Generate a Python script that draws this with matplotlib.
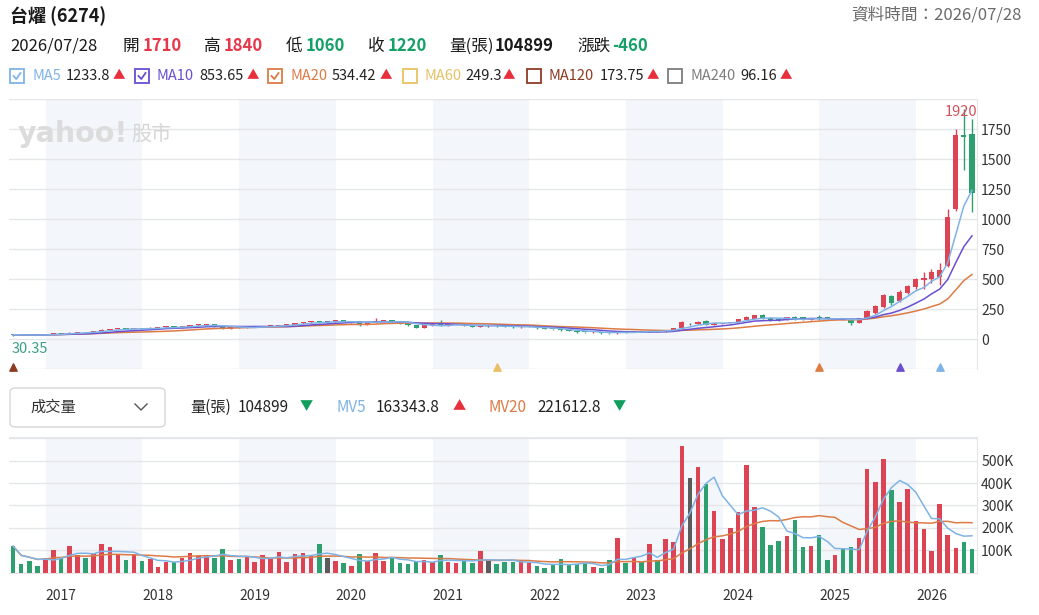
import numpy as np
import pandas as pd
import matplotlib
matplotlib.use('Agg')
import matplotlib.pyplot as plt
import matplotlib.dates as mdates
from matplotlib.patches import Rectangle, FancyBboxPatch
from matplotlib.lines import Line2D

plt.rcParams['font.family'] = ['Noto Sans CJK TC', 'DejaVu Sans']

# --- monthly candles, 2016/08 - 2026/07 ---
months = pd.date_range('2016-08-01', periods=120, freq='MS') + pd.offsets.MonthEnd(0)

opens = [42, 38, 36, 35, 34, 41, 48, 46, 56, 60,
         57, 70, 79, 88, 91, 85, 88, 84, 97, 99,
         107, 99, 106, 116, 123, 125, 108, 88, 100, 97,
         102, 104, 108, 112, 120, 123, 133, 143, 150, 141,
         141, 157, 146, 149, 124, 138, 156, 158, 147, 132,
         118, 96, 118, 121, 118, 121, 123, 116, 104, 112,
         112, 108, 104, 99, 104, 106, 92, 86, 84, 76,
         72, 60, 58, 63, 50, 49, 63, 59, 67, 63,
         72, 67, 76, 92, 132, 130, 156, 122, 130, 136,
         142, 164, 172, 200, 175, 172, 166, 187, 184, 161,
         183, 180, 166, 172, 167, 139, 174, 223, 267, 365,
         323, 390, 434, 495, 502, 523, 607, 1085, 1705, 1710]
highs = [45, 40, 39, 37, 42, 50, 50, 58, 62, 62,
         72, 82, 90, 93, 93, 92, 91, 99, 101, 110,
         110, 108, 119, 126, 128, 127, 110, 106, 104, 104,
         106, 110, 114, 122, 126, 136, 146, 154, 153, 146,
         160, 159, 152, 150, 140, 175, 162, 160, 149, 135,
         120, 122, 124, 158, 125, 126, 125, 118, 122, 118,
         116, 111, 110, 108, 110, 107, 96, 90, 88, 80,
         75, 63, 66, 64, 53, 66, 65, 70, 70, 75,
         74, 80, 95, 150, 138, 152, 165, 136, 140, 148,
         172, 195, 205, 208, 180, 178, 188, 192, 188, 180,
         203, 185, 178, 178, 175, 181, 245, 285, 375, 372,
         412, 455, 515, 560, 587, 635, 1090, 1750, 1920, 1840]
lows = [30.35, 34, 33, 33, 33, 40, 44, 45, 54, 55,
        56, 68, 77, 83, 82, 84, 82, 83, 93, 97,
        96, 97, 104, 113, 118, 104, 82, 85, 93, 95,
        99, 102, 105, 110, 117, 121, 130, 140, 138, 136,
        139, 143, 140, 110, 120, 135, 147, 143, 128, 115,
        92, 94, 113, 115, 115, 117, 113, 100, 102, 106,
        104, 100, 96, 96, 100, 88, 82, 80, 73, 68,
        56, 55, 56, 46, 47, 48, 56, 57, 60, 61,
        64, 65, 74, 90, 120, 126, 118, 118, 126, 132,
        140, 160, 168, 168, 150, 152, 162, 163, 158, 158,
        165, 168, 160, 160, 117, 133, 168, 215, 260, 287,
        315, 380, 420, 417, 473, 454, 600, 1070, 1410, 1060]
closes = [38, 36, 35, 34, 41, 48, 46, 56, 60, 57,
          70, 79, 88, 91, 85, 88, 84, 97, 99, 107,
          99, 106, 116, 123, 125, 108, 88, 100, 97, 102,
          104, 108, 112, 120, 123, 133, 143, 150, 141, 141,
          157, 146, 149, 124, 138, 156, 158, 147, 132, 118,
          96, 118, 121, 118, 121, 123, 116, 104, 118, 112,
          108, 104, 99, 104, 106, 92, 86, 84, 76, 72,
          60, 58, 63, 50, 49, 63, 59, 67, 63, 72,
          67, 76, 92, 142, 132, 148, 122, 134, 138, 145,
          167, 189, 200, 174, 158, 160, 184, 168, 162, 175,
          170, 174, 172, 168, 139, 174, 236, 278, 370, 306,
          392, 445, 506, 515, 557, 579, 1020, 1700, 1690, 1220]
volumes = [118000, 37000, 52000, 31000, 64000, 101000, 70000, 118000, 79000, 67000,
           87000, 127000, 113000, 82000, 57000, 78000, 52000, 61000, 27000, 48000,
           48000, 67000, 87000, 75000, 75000, 67000, 107000, 57000, 63000, 70000,
           48000, 78000, 63000, 93000, 48000, 82000, 87000, 73000, 127000, 67000,
           52000, 42000, 31000, 82000, 52000, 88000, 52000, 67000, 42000, 37000,
           49000, 57000, 49000, 78000, 48000, 42000, 52000, 43000, 97000, 52000,
           39000, 49000, 46000, 58000, 43000, 28000, 19000, 36000, 63000, 34000,
           39000, 43000, 24000, 19000, 55000, 157000, 43000, 64000, 48000, 130000,
           58000, 151000, 139000, 564000, 422000, 473000, 397000, 276000, 151000, 201000,
           270000, 479000, 293000, 206000, 125000, 140000, 166000, 236000, 115000, 121000,
           170000, 55000, 81000, 107000, 115000, 157000, 463000, 403000, 507000, 369000,
           316000, 373000, 230000, 196000, 96000, 306000, 167000, 110000, 136000, 104899]

# crossover markers at the bottom of the price panel (month index, line)
signal_idx = [0, 60, 100, 110, 115]
signal_line = ['MA120', 'MA60', 'MA20', 'MA10', 'MA5']

ma_names = ['MA5', 'MA10', 'MA20', 'MA60', 'MA120', 'MA240']
ma_values = ['1233.8', '853.65', '534.42', '249.3', '173.75', '96.16']
ma_checked = [True, True, True, False, False, False]
ma_colors = {'MA5': '#7fb3e6', 'MA10': '#6a4fd0', 'MA20': '#dd7b45',
             'MA60': '#e8c064', 'MA120': '#8e3b22', 'MA240': '#7d7d7d'}

RED = '#dc4453'
GREEN = '#2e9f6e'
GRAY = '#5b5b5b'
W, H = 1039, 615

df = pd.DataFrame({'open': opens, 'high': highs, 'low': lows, 'close': closes,
                   'vol': volumes}, index=months)
x = mdates.date2num(df.index.to_pydatetime())
colors = [RED if c > o else GREEN if c < o else GRAY for o, c in zip(opens, closes)]

fig = plt.figure(figsize=(W / 100, H / 100), dpi=100)


def fx(px):
    return px / W


def fy(py):
    return 1 - py / H


def ftext(px, py, s, **kw):
    kw.setdefault('va', 'center')
    fig.text(fx(px), fy(py), s, **kw)


xlim = (mdates.date2num(pd.Timestamp('2016-08-15')), mdates.date2num(pd.Timestamp('2026-08-19')))
shade_years = [2017, 2019, 2021, 2023, 2025]
year_ticks = [mdates.date2num(pd.Timestamp(f'{y}-01-01')) for y in range(2017, 2027)]
grid_c = '#e4e6ea'

# --- price panel ---
ax = fig.add_axes([fx(9), fy(369.3), fx(977) - fx(9), fy(99.3) - fy(369.3)])
for yr in shade_years:
    ax.axvspan(mdates.date2num(pd.Timestamp(f'{yr}-01-01')),
               mdates.date2num(pd.Timestamp(f'{yr + 1}-01-01')),
               color='#f3f6fa', zorder=0, lw=0)
ax.set_xlim(xlim)
ax.set_ylim(-250, 2000)
for yv in range(-250, 2001, 250):
    ax.axhline(yv, color=grid_c, lw=1, zorder=1)
ax.vlines(x, df['low'], df['high'], colors=colors, lw=1, zorder=3)
body_lo = np.minimum(df['open'], df['close'])
body_h = np.maximum(np.abs(df['close'] - df['open']), 8)
ax.bar(x, body_h, bottom=body_lo, width=20, color=colors, zorder=4)

ma5 = df['close'].rolling(5, min_periods=1).mean()
ma10 = df['close'].rolling(10, min_periods=1).mean()
ma20 = df['close'].rolling(20, min_periods=1).mean()
ax.plot(x, ma20, color=ma_colors['MA20'], lw=1.1, zorder=5)
ax.plot(x, ma10, color=ma_colors['MA10'], lw=1.1, zorder=5)
ax.plot(x, ma5, color=ma_colors['MA5'], lw=1.1, zorder=5)

for i, name in zip(signal_idx, signal_line):
    ax.scatter(x[i], -228, marker='^', s=28, color=ma_colors[name], zorder=6, clip_on=False)

imax = int(np.argmax(highs))
imin = int(np.argmin(lows))
ax.annotate(f'{highs[imax]:g}', (x[imax], highs[imax]), xytext=(-3, -3),
            textcoords='offset pixels', ha='center', va='center',
            color='#d2525c', fontsize=10.5, zorder=7)
ax.annotate(f'{lows[imin]:g}', (x[imin], lows[imin]), xytext=(-2, -13),
            textcoords='offset pixels', ha='left', va='center',
            color='#3a9e88', fontsize=10.5, zorder=7)

ax.yaxis.tick_right()
ax.set_yticks(range(0, 1751, 250))
ax.set_xticks([])
ax.tick_params(axis='y', length=0, pad=3, labelsize=10, labelcolor='#333333')
for side in ['left', 'bottom', 'top']:
    ax.spines[side].set_visible(False)
ax.spines['right'].set_color(grid_c)

# watermark
ax.text(fx(18 - 9) / (fx(977) - fx(9)), 0.87, 'yahoo!', transform=ax.transAxes,
        fontsize=20.5, fontweight='bold', color='#dcdcdc', family='DejaVu Sans',
        va='center', ha='left', zorder=2)
ax.text(fx(131 - 9) / (fx(977) - fx(9)), 0.872, '股市', transform=ax.transAxes,
        fontsize=14.5, color='#d6d6d6', va='center', ha='left', zorder=2)

# --- volume panel ---
av = fig.add_axes([fx(9), fy(572.7), fx(977) - fx(9), fy(436.7) - fy(572.7)])
for yr in shade_years:
    av.axvspan(mdates.date2num(pd.Timestamp(f'{yr}-01-01')),
               mdates.date2num(pd.Timestamp(f'{yr + 1}-01-01')),
               color='#f3f6fa', zorder=0, lw=0)
av.set_xlim(xlim)
av.set_ylim(0, 607000)
for yv in range(100000, 600001, 100000):
    av.axhline(yv, color=grid_c, lw=1, zorder=1)
av.axhline(607000, color=grid_c, lw=1.5, zorder=1)
av.bar(x, df['vol'], width=17, color=colors, zorder=3)
mv5 = df['vol'].rolling(5, min_periods=1).mean()
mv20 = df['vol'].rolling(20, min_periods=1).mean()
av.plot(x, mv20, color=ma_colors['MA20'], lw=1.1, zorder=4)
av.plot(x, mv5, color=ma_colors['MA5'], lw=1.1, zorder=4)

av.yaxis.tick_right()
av.set_yticks(range(100000, 500001, 100000))
av.set_yticklabels([f'{v // 1000}K' for v in range(100000, 500001, 100000)])
av.set_xticks(year_ticks)
av.set_xticklabels([str(y) for y in range(2017, 2027)], ha='left')
av.tick_params(axis='y', length=0, pad=3, labelsize=10, labelcolor='#333333')
av.tick_params(axis='x', length=0, pad=12, labelsize=10, labelcolor='#333333')
for side in ['left', 'top']:
    av.spines[side].set_visible(False)
av.spines['right'].set_color(grid_c)
av.spines['bottom'].set_color('#f0dfe2')

# --- header ---
ftext(10, 16, '台燿 (6274)', fontsize=13, fontweight='bold', color='#1a1a1a')
ftext(1022, 15, '資料時間：2026/07/28', fontsize=12, color='#6b6b6b', ha='right')

row = 46
ftext(10, row, '2026/07/28', fontsize=12, color='#1a1a1a')
quote = [(123, '開', 143, '1710', '#e8364a'), (204, '高', 224, '1840', '#e8364a'),
         (286, '低', 306, '1060', '#15a067'), (368, '收', 388, '1220', '#15a067'),
         (449, '量(張)', 495, '104899', '#1a1a1a'), (577, '漲跌', 612, '-460', '#15a067')]
for lx, lab, vx, val, vc in quote:
    ftext(lx, row, lab, fontsize=12, color='#1a1a1a')
    ftext(vx, row, val, fontsize=12, fontweight='bold', color=vc)

# MA legend with check boxes
leg_y = 76
box_x = [10, 135, 268, 403, 527, 668]
val_x = [66, 199, 332, 465, 600, 740]
tri_x = [113, 247, 380, 503, 647, 780]
for name, val, chk, bx, vx, tx in zip(ma_names, ma_values, ma_checked, box_x, val_x, tri_x):
    col = ma_colors[name]
    fig.add_artist(Rectangle((fx(bx), fy(leg_y + 7)), fx(14), 14 / H, transform=fig.transFigure,
                             facecolor='white', edgecolor=col, lw=1.3))
    if chk:
        fig.add_artist(Line2D([fx(bx + 3.5), fx(bx + 6.3), fx(bx + 10.5)],
                              [fy(leg_y), fy(leg_y + 3), fy(leg_y - 3)],
                              transform=fig.transFigure, color=col, lw=1.3))
    ftext(bx + 22, leg_y, name, fontsize=10.5, color=col)
    ftext(vx, leg_y, val, fontsize=10.5, color='#222222')
    ftext(tx, leg_y, '▲', fontsize=9, color='#e8303d')

# volume header
vy = 407
fig.add_artist(FancyBboxPatch((fx(10), fy(427)), fx(155), 39 / H,
                              boxstyle='round,pad=0,rounding_size=0.006',
                              transform=fig.transFigure, facecolor='white',
                              edgecolor='#d6d6d6', lw=1))
ftext(30, vy, '成交量', fontsize=11, color='#333333')
fig.add_artist(Line2D([fx(135), fx(141), fx(147)], [fy(vy - 3), fy(vy + 3), fy(vy - 3)],
                      transform=fig.transFigure, color='#555555', lw=1))
vol_items = [(190, '量(張)', '#222222', 238, '104899', 300, '▼', '#119e5e'),
             (337, 'MV5', ma_colors['MA5'], 376, '163343.8', 453, '▲', '#e8303d'),
             (488, 'MV20', ma_colors['MA20'], 537, '221612.8', 613, '▼', '#119e5e')]
for lx, lab, lc, vx, val, tx, tri, tc in vol_items:
    ftext(lx, vy, lab, fontsize=11, color=lc)
    ftext(vx, vy, val, fontsize=11, color='#222222')
    ftext(tx, vy, tri, fontsize=9.5, color=tc)

fig.savefig('out.png', dpi=100)
